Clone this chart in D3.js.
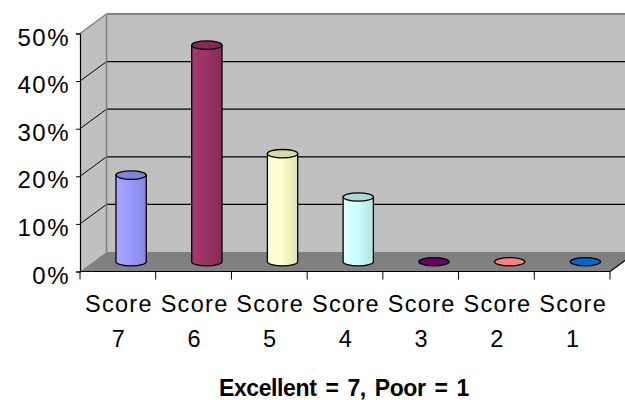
<!DOCTYPE html>
<html><head><meta charset="utf-8">
<script src="https://cdn.jsdelivr.net/npm/d3@7"></script>
<style>html,body{margin:0;padding:0;background:#fff}svg{display:block}</style>
</head><body>
<svg id="chart" width="625" height="400"></svg>
<script>
// ---- data ----
const categories = ["Score 7","Score 6","Score 5","Score 4","Score 3","Score 2","Score 1"];
const values = [18.2, 45.5, 22.7, 13.6, 0, 0, 0];
const yTicks = [0, 10, 20, 30, 40, 50];
const barColors = ["#9999FF","#993366","#FFFFCC","#CCFFFF","#660066","#FF8080","#0066CC"];
const xTitle = "Excellent = 7, Poor = 1";

// ---- layout ----
const svg = d3.select("#chart");
const front = {left: 80, right: 610, top: 33.5, bottom: 271.5};
const depth = {dx: 26.5, dy: -19.5};

const x = d3.scaleBand().domain(categories).range([front.left, front.right]).paddingInner(0).paddingOuter(0);
const y = d3.scaleLinear().domain([0, 50]).range([front.bottom, front.top]);

const font = "'Liberation Sans', Arial, sans-serif";

// back wall
const bx0 = front.left + depth.dx, bx1 = front.right + depth.dx;
const byTop = y(50) + depth.dy, byBot = y(0) + depth.dy;
svg.append("rect").attr("x", bx0).attr("y", byTop).attr("width", bx1 - bx0).attr("height", byBot - byTop)
  .attr("fill", "#C0C0C0");
// left wall
svg.append("polygon")
  .attr("points", [[front.left, y(50)], [bx0, byTop], [bx0, byBot], [front.left, y(0)]].map(p => p.join(",")).join(" "))
  .attr("fill", "#C0C0C0");

// gridlines (back wall + left wall diagonals)
const grid = svg.append("g");
yTicks.filter(t => t > 0).forEach(t => {
  const col = t === 50 ? "#808080" : "#000";
  const sw = t === 50 ? 2 : 1.2;
  grid.append("line").attr("x1", bx0).attr("x2", bx1 + 10).attr("y1", y(t) + depth.dy).attr("y2", y(t) + depth.dy)
    .attr("stroke", col).attr("stroke-width", sw);
  grid.append("line").attr("x1", front.left).attr("y1", y(t)).attr("x2", bx0).attr("y2", y(t) + depth.dy)
    .attr("stroke", col).attr("stroke-width", t === 50 ? 1.5 : 1);
});
// back-left vertical edge
svg.append("line").attr("x1", bx0).attr("x2", bx0).attr("y1", byTop).attr("y2", byBot)
  .attr("stroke", "#808080").attr("stroke-width", 1.5);

// floor
svg.append("polygon")
  .attr("points", [[front.left, y(0)], [bx0, byBot], [bx1, byBot], [front.right, y(0)]].map(p => p.join(",")).join(" "))
  .attr("fill", "#808080");
svg.append("line").attr("x1", front.right).attr("y1", y(0)).attr("x2", bx1).attr("y2", byBot)
  .attr("stroke", "#000").attr("stroke-width", 1.2);

// ---- bars (cylinders) ----
const defs = svg.append("defs");
const bw = x.bandwidth() * 0.4, rx = bw / 2, ry = 4.2;
categories.forEach((c, i) => {
  const base = d3.color(barColors[i]);
  const g = defs.append("linearGradient").attr("id", "g" + i).attr("x1", 0).attr("x2", 1).attr("y1", 0).attr("y2", 0);
  g.append("stop").attr("offset", "0%").attr("stop-color", base.brighter(0.25));
  g.append("stop").attr("offset", "45%").attr("stop-color", base);
  g.append("stop").attr("offset", "100%").attr("stop-color", base.darker(0.35));
});

const bars = svg.append("g");
categories.forEach((c, i) => {
  const cx = x(c) + x.bandwidth() / 2 + depth.dx / 2;
  const yb = y(0) + depth.dy / 2;
  const yt = y(values[i]) + depth.dy / 2;
  const col = d3.color(barColors[i]);
  if (yb - yt > 1) {
    bars.append("path")
      .attr("d", `M${cx - rx},${yt} L${cx - rx},${yb} A${rx},${ry} 0 0 0 ${cx + rx},${yb} L${cx + rx},${yt} Z`)
      .attr("fill", `url(#g${i})`).attr("stroke", "#000").attr("stroke-width", 1.3);
    bars.append("ellipse").attr("cx", cx).attr("cy", yt).attr("rx", rx).attr("ry", ry)
      .attr("fill", col.darker(0.45)).attr("stroke", "#000").attr("stroke-width", 1.3);
  } else {
    bars.append("ellipse").attr("cx", cx).attr("cy", yb).attr("rx", rx).attr("ry", ry)
      .attr("fill", col).attr("stroke", "#000").attr("stroke-width", 1.3);
  }
});

// ---- y axis ----
const yAxis = svg.append("g").attr("transform", `translate(${front.left},0)`)
  .call(d3.axisLeft(y).tickValues(yTicks).tickSize(4).tickFormat(d => d + "%"));
yAxis.select(".domain").attr("stroke", "#000").attr("stroke-width", 1.2);
yAxis.selectAll(".tick line").attr("stroke", "#000");
yAxis.selectAll(".tick text").attr("font-family", font).attr("font-size", 24).attr("letter-spacing", 1.5)
  .attr("fill", "#000").attr("x", -10).attr("dy", "0.48em");

// ---- x axis ----
const xAxisG = svg.append("g").attr("transform", `translate(0,${front.bottom})`);
xAxisG.append("line").attr("x1", front.left).attr("x2", front.right).attr("y1", 0).attr("y2", 0)
  .attr("stroke", "#000").attr("stroke-width", 1.2);
const bounds = categories.map(c => x(c)).concat([front.right]);
xAxisG.selectAll("line.tk").data(bounds).join("line").attr("class", "tk")
  .attr("x1", d => d).attr("x2", d => d).attr("y1", 0).attr("y2", 8).attr("stroke", "#000");
const xl = svg.append("g").attr("transform", `translate(0,${front.bottom})`)
  .call(d3.axisBottom(x).tickSize(0).tickPadding(0));
xl.select(".domain").remove();
xl.selectAll(".tick text").each(function(d) {
  const t = d3.select(this).text("").attr("font-family", font).attr("font-size", 23.5)
    .attr("letter-spacing", 1.3).attr("fill", "#000").attr("y", 0).attr("dy", null);
  const parts = d.split(" ");
  t.append("tspan").attr("x", 1).attr("y", 40).text(parts[0]);
  t.append("tspan").attr("x", 1).attr("y", 75).text(parts[1]);
});

// ---- title ----
svg.append("text").attr("x", 344).attr("y", 396)
  .attr("text-anchor", "middle").attr("font-family", font).attr("font-weight", "bold")
  .attr("font-size", 23).attr("letter-spacing", -0.4).attr("word-spacing", 3).attr("fill", "#000").text(xTitle);
</script>
</body></html>
